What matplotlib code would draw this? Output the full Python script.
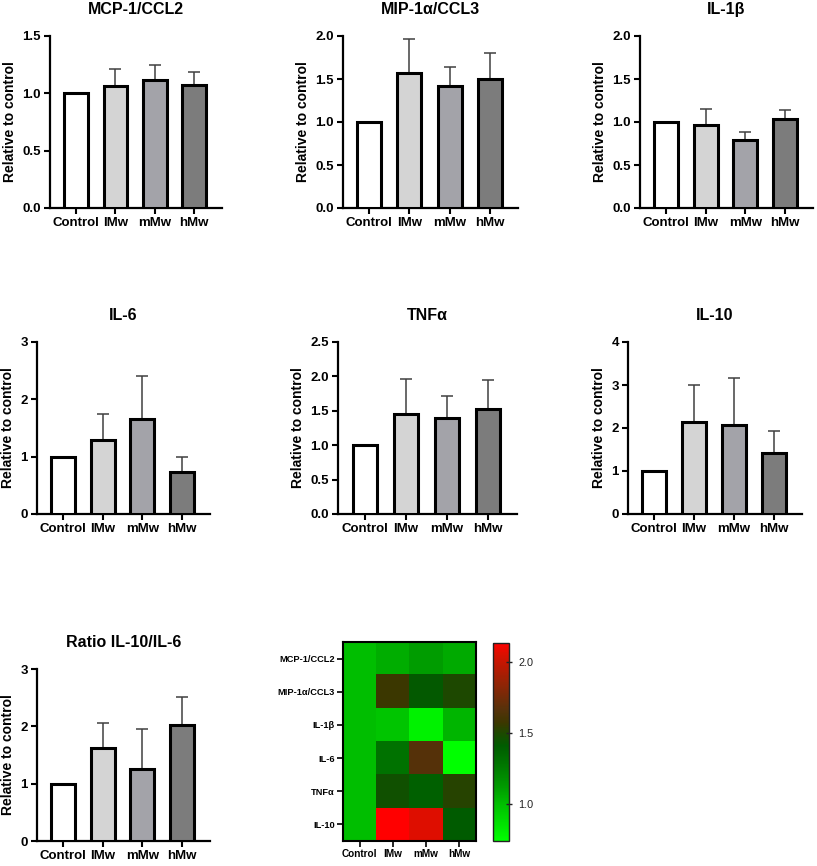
import numpy as np
import matplotlib
matplotlib.use("Agg")
import matplotlib.pyplot as plt
from matplotlib.colors import LinearSegmentedColormap

plt.rcParams['font.family'] = ['Liberation Sans', 'DejaVu Sans']

# ---------------- data ----------------
groups = ["Control", "lMw", "mMw", "hMw"]

mcp1_mean = [1.00, 1.06, 1.12, 1.07]
mcp1_err = [0.00, 0.15, 0.13, 0.12]

mip1a_mean = [1.00, 1.57, 1.42, 1.50]
mip1a_err = [0.00, 0.39, 0.22, 0.30]

il1b_mean = [1.00, 0.97, 0.79, 1.03]
il1b_err = [0.00, 0.18, 0.09, 0.11]

il6_mean = [1.00, 1.29, 1.66, 0.74]
il6_err = [0.00, 0.45, 0.74, 0.25]

tnfa_mean = [1.00, 1.46, 1.39, 1.52]
tnfa_err = [0.00, 0.50, 0.33, 0.43]

il10_mean = [1.00, 2.13, 2.06, 1.41]
il10_err = [0.00, 0.88, 1.10, 0.53]

ratio_mean = [1.00, 1.63, 1.25, 2.03]
ratio_err = [0.00, 0.43, 0.70, 0.48]

heat_rows = ["MCP-1/CCL2", "MIP-1α/CCL3", "IL-1β", "IL-6", "TNFα", "IL-10"]

bar_colors = ["#ffffff", "#d4d4d4", "#a3a3a9", "#7c7c7c"]

# ---------------- layout ----------------
W, H = 817, 866
fig = plt.figure(figsize=(W / 100, H / 100), dpi=100)


def rect(l, t, r, b):
    return [l / W, 1 - b / H, (r - l) / W, (b - t) / H]


def bar_panel(pos, title, mean, err, ymax, ystep, fmt):
    ax = fig.add_axes(rect(*pos))
    x = np.arange(len(groups))
    ax.errorbar(x, mean, yerr=[np.zeros(len(err)), err], fmt='none',
                ecolor='#404040', elinewidth=1.1, capsize=4.6, capthick=1.1,
                zorder=2)
    ax.bar(x, mean, width=0.6, color=bar_colors, edgecolor='black',
           linewidth=2.2, zorder=3)
    ax.set_xlim(-0.66, 3.71)
    ax.set_ylim(0, ymax)
    ticks = np.arange(0, ymax + 1e-9, ystep)
    ax.set_yticks(ticks)
    ax.set_yticklabels([fmt.format(t) for t in ticks])
    ax.set_xticks(x)
    ax.set_xticklabels(groups)
    for s in ['top', 'right']:
        ax.spines[s].set_visible(False)
    for s in ['left', 'bottom']:
        ax.spines[s].set_linewidth(1.6)
    ax.tick_params(axis='both', length=4.3, width=1.5, pad=2.2,
                   labelsize=9.5)
    for lab in ax.get_xticklabels() + ax.get_yticklabels():
        lab.set_fontweight('bold')
    ax.set_ylabel("Relative to control", fontsize=10, fontweight='bold',
                  labelpad=4)
    ax.set_title(title, fontsize=11.5, fontweight='bold', pad=16)
    return ax


bar_panel((50, 36, 222, 208), "MCP-1/CCL2", mcp1_mean, mcp1_err, 1.5, 0.5, "{:.1f}")
bar_panel((343, 36, 518, 208), "MIP-1α/CCL3", mip1a_mean, mip1a_err, 2.0, 0.5, "{:.1f}")
bar_panel((640, 36, 813, 208), "IL-1β", il1b_mean, il1b_err, 2.0, 0.5, "{:.1f}")

bar_panel((37, 342, 210, 514), "IL-6", il6_mean, il6_err, 3, 1, "{:.0f}")
bar_panel((338, 342, 517, 514), "TNFα", tnfa_mean, tnfa_err, 2.5, 0.5, "{:.1f}")
bar_panel((628, 342, 802, 514), "IL-10", il10_mean, il10_err, 4, 1, "{:.0f}")

bar_panel((37, 669, 210, 841), "Ratio IL-10/IL-6", ratio_mean, ratio_err, 3, 1, "{:.0f}")

# ---------------- heatmap ----------------
heat = np.array([mcp1_mean, mip1a_mean, il1b_mean, il6_mean, tnfa_mean, il10_mean])
vmin, vmax = heat.min(), heat.max()

nodes_v = [vmin, 1.0, 1.12, 1.29, 1.41, 1.5, 1.57, 1.66, 1.86, 2.06, vmax]
nodes_c = [(0, 255, 0), (0, 190, 0), (0, 155, 0), (0, 115, 0), (0, 92, 0),
           (30, 72, 0), (60, 55, 0), (85, 50, 10), (150, 35, 5),
           (220, 15, 0), (255, 0, 0)]
cmap = LinearSegmentedColormap.from_list(
    "gr", [((v - vmin) / (vmax - vmin), tuple(c / 255 for c in col))
           for v, col in zip(nodes_v, nodes_c)])

axh = fig.add_axes(rect(343, 642, 476, 841))
im = axh.imshow(heat, cmap=cmap, vmin=vmin, vmax=vmax, aspect='auto',
                interpolation='nearest')
axh.set_xticks(np.arange(len(groups)))
axh.set_xticklabels(groups, fontsize=7.2, fontweight='bold')
axh.set_yticks(np.arange(len(heat_rows)))
axh.set_yticklabels(heat_rows, fontsize=6.7, fontweight='bold')
axh.tick_params(axis='both', length=4.3, width=1.2, pad=1.5)
for s in axh.spines.values():
    s.set_linewidth(1.5)

cax = fig.add_axes(rect(493, 643, 509, 841))
cb = fig.colorbar(im, cax=cax)
cb.set_ticks([1.0, 1.5, 2.0])
cb.set_ticklabels(["1.0", "1.5", "2.0"])
cb.outline.set_linewidth(1.0)
cb.outline.set_edgecolor('#222222')
cax.tick_params(axis='y', direction='inout', length=5, width=1.0,
                labelsize=7.8, labelcolor='#222222', color='#222222', pad=4)

fig.savefig("out.png", dpi=100)
